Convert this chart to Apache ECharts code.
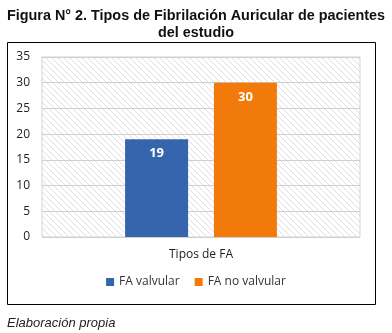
<!DOCTYPE html>
<html><head><meta charset="utf-8">
<style>html,body{margin:0;padding:0;background:#fff}#c{width:392px;height:333px}</style>
<script src="https://cdn.jsdelivr.net/npm/echarts@6/dist/echarts.min.js"></script>
</head><body><div id="c"></div>
<script>
const categories = ['Tipos de FA'];
const seriesNames = ['FA valvular', 'FA no valvular'];
const valvular = [19];
const noValvular = [30];
const yTicks = [0, 5, 10, 15, 20, 25, 30, 35];

// hatch pattern for plot background
const pc = document.createElement('canvas');
pc.width = 6; pc.height = 6;
const g = pc.getContext('2d');
g.fillStyle = '#ffffff'; g.fillRect(0,0,6,6);
g.strokeStyle = '#e2dde4'; g.lineWidth = 1;
g.beginPath(); g.moveTo(0,0); g.lineTo(6,6); g.stroke();

const chart = echarts.init(document.getElementById('c'));
chart.setOption({
  animation: false,
  title: {
    text: 'Figura N° 2. Tipos de Fibrilación Auricular de pacientes\ndel estudio',
    left: 'center', top: 3,
    textStyle: {fontFamily: 'Liberation Sans', fontWeight: 'bold', fontSize: 14.4, color: '#111', lineHeight: 17}
  },
  graphic: [
    {type: 'rect', shape: {x: 7.5, y: 42.5, width: 368, height: 262}, style: {fill: 'none', stroke: '#000', lineWidth: 1}, z: -1},
    {type: 'text', left: 7, top: 317, style: {text: 'Elaboración propia', fontFamily: 'Liberation Sans', fontStyle: 'italic', fontSize: 13, fill: '#222'}}
  ],
  grid: {left: 42, right: 32, top: 57, height: 180, show: true,
    backgroundColor: {image: pc, repeat: 'repeat'}, borderColor: '#cfd6cf', borderWidth: 1},
  legend: {
    data: seriesNames, bottom: 40, left: 'center', itemWidth: 8, itemHeight: 8, itemGap: 15,
    icon: 'rect',
    textStyle: {fontFamily: 'Open Sans', fontSize: 12, color: '#333'}
  },
  xAxis: {
    type: 'category', data: categories,
    axisLine: {show: false}, axisTick: {show: false},
    axisLabel: {fontFamily: 'Open Sans', fontSize: 12, color: '#222', margin: 12}
  },
  yAxis: {
    type: 'value', min: 0, max: 35, interval: 5,
    axisLine: {show: false}, axisTick: {show: false},
    axisLabel: {fontFamily: 'Open Sans', fontSize: 12, color: '#222', margin: 12,
      formatter: v => yTicks.includes(v) ? String(v) : ''},
    splitLine: {lineStyle: {color: '#cfcfd2', width: 1}}
  },
  series: [
    {name: seriesNames[0], type: 'bar', data: valvular, barWidth: 63, barGap: '41%',
      itemStyle: {color: '#3566ad'},
      label: {show: true, position: 'insideTop', distance: 8, color: '#fff', fontFamily: 'Open Sans', fontSize: 13, fontWeight: 'bold'}},
    {name: seriesNames[1], type: 'bar', data: noValvular, barWidth: 63,
      itemStyle: {color: '#f27a0a'},
      label: {show: true, position: 'insideTop', distance: 8, color: '#fff', fontFamily: 'Open Sans', fontSize: 13, fontWeight: 'bold'}}
  ]
});
</script></body></html>
